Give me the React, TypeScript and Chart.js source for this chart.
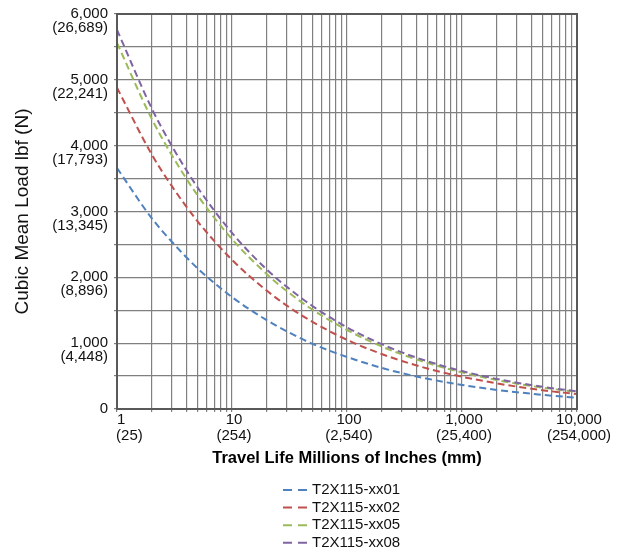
import React, { useEffect, useRef } from 'react';
import { Chart, registerables } from 'chart.js';

Chart.register(...registerables);

// ---- data ----
const travelLife = [1, 2, 3, 5, 10, 20, 30, 50, 100, 200, 300, 500, 1000, 2000, 3000, 5000, 10000];
const loadXx01 = [3660, 2900, 2540, 2140, 1700, 1350, 1180, 990, 790, 625, 545, 460, 365, 290, 255, 215, 170];
const loadXx02 = [4880, 3870, 3385, 2855, 2265, 1800, 1570, 1325, 1050, 835, 730, 615, 490, 390, 340, 285, 227];
const loadXx05 = [5560, 4410, 3855, 3250, 2580, 2050, 1790, 1510, 1200, 950, 830, 700, 556, 441, 385, 325, 258];
const loadXx08 = [5760, 4570, 3995, 3370, 2675, 2120, 1855, 1565, 1240, 985, 860, 725, 576, 457, 400, 337, 267];

const seriesNames = ['T2X115-xx01', 'T2X115-xx02', 'T2X115-xx05', 'T2X115-xx08'];
const seriesValues = [loadXx01, loadXx02, loadXx05, loadXx08];
const seriesColors = ['#4F81BD', '#C0504D', '#9BBB59', '#8064A2'];

const xMajorTicks = [1, 10, 100, 1000, 10000];
const xTickLabels = ['1', '10', '100', '1,000', '10,000'];
const xTickSubLabels = ['(25)', '(254)', '(2,540)', '(25,400)', '(254,000)'];
const xMinorMultipliers = [2, 3, 4, 5, 6, 7, 8, 9];

const yTickValues = [0, 1000, 2000, 3000, 4000, 5000, 6000];
const yTickLabels = ['0', '1,000', '2,000', '3,000', '4,000', '5,000', '6,000'];
const yTickSubLabels = ['', '(4,448)', '(8,896)', '(13,345)', '(17,793)', '(22,241)', '(26,689)'];

const xTitle = 'Travel Life Millions of Inches (mm)';
const yTitle = 'Cubic Mean Load lbf (N)';

const FONT = "'Liberation Sans', Arial, Helvetica, sans-serif";
const GRID = '#808080';

const frameAndLegend = {
  id: 'frameAndLegend',
  afterDraw(chart: any) {
    const { ctx, chartArea } = chart;
    ctx.save();
    ctx.strokeStyle = '#595959';
    ctx.lineWidth = 2;
    ctx.setLineDash([]);
    ctx.strokeRect(chartArea.left, chartArea.top, chartArea.right - chartArea.left, chartArea.bottom - chartArea.top);

    // legend: one entry per row
    ctx.font = `15px ${FONT}`;
    ctx.textBaseline = 'middle';
    ctx.textAlign = 'left';
    chart.data.datasets.forEach((ds: any, i: number) => {
      const y = 482 + i * 17.6;
      ctx.strokeStyle = ds.borderColor;
      ctx.lineWidth = 2;
      ctx.setLineDash([9, 6]);
      ctx.beginPath();
      ctx.moveTo(275, y);
      ctx.lineTo(299, y);
      ctx.stroke();
      ctx.setLineDash([]);
      ctx.fillStyle = '#111';
      ctx.fillText(ds.label, 304, y);
    });
    ctx.restore();
  },
};

function App() {
  const ref = useRef<HTMLCanvasElement | null>(null);

  useEffect(() => {
    if (!ref.current) return;
    const datasets = seriesNames.map((name, i) => ({
      label: name,
      data: travelLife.map((x, j) => ({ x, y: seriesValues[i][j] })),
      borderColor: seriesColors[i],
      backgroundColor: seriesColors[i],
      borderWidth: 2,
      borderDash: [7, 4],
      pointRadius: 0,
      fill: false,
      cubicInterpolationMode: 'monotone' as const,
      order: seriesNames.length - 1 - i,
    }));

    const chart = new Chart(ref.current, {
      type: 'line',
      data: { datasets },
      plugins: [frameAndLegend],
      options: {
        animation: false,
        responsive: true,
        maintainAspectRatio: false,
        devicePixelRatio: 1,
        layout: { padding: { top: 6, right: 34, bottom: 80, left: 0 } },
        plugins: {
          legend: { display: false },
          tooltip: { enabled: false },
        },
        scales: {
          x: {
            type: 'logarithmic',
            min: 1,
            max: 10000,
            afterBuildTicks: (scale: any) => {
              const vals: number[] = [];
              xMajorTicks.forEach((d, k) => {
                vals.push(d);
                if (k < xMajorTicks.length - 1) xMinorMultipliers.forEach((m) => vals.push(d * m));
              });
              scale.ticks = vals.map((v) => ({ value: v }));
            },
            afterFit: (scale: any) => {
              scale.height = 63;
              scale.paddingLeft = 0;
              scale.paddingRight = 0;
            },
            grid: { color: GRID, lineWidth: 1.2, tickLength: 3, drawTicks: true },
            border: { display: false },
            ticks: {
              autoSkip: false,
              maxRotation: 0,
              minRotation: 0,
              padding: 0,
              labelOffset: 2,
              color: '#111',
              font: { family: FONT, size: 15, lineHeight: 1.07 },
              callback: (value: any) => {
                const idx = xMajorTicks.indexOf(Number(value));
                if (idx < 0) return '';
                if (idx === 0) return [' ' + xTickLabels[0], '     ' + xTickSubLabels[0]];
                return [xTickLabels[idx], xTickSubLabels[idx]];
              },
            },
            title: {
              display: true,
              text: xTitle,
              color: '#000',
              padding: { top: 0, bottom: 4 },
              font: { family: FONT, size: 16.5, weight: 'bold', lineHeight: 1.2 },
            },
          },
          y: {
            type: 'linear',
            min: 0,
            max: 6000,
            afterFit: (scale: any) => {
              scale.width = 109;
              scale.paddingTop = 0;
              scale.paddingBottom = 0;
            },
            grid: { color: GRID, lineWidth: 1.2, tickLength: 3, drawTicks: true },
            border: { display: false },
            ticks: {
              stepSize: 500,
              autoSkip: false,
              padding: 6,
              color: '#111',
              font: { family: FONT, size: 15, lineHeight: 0.93 },
              callback: (value: any) => {
                const idx = yTickValues.indexOf(Number(value));
                if (idx < 0) return '';
                if (idx === 0) return yTickLabels[0];
                return ['', yTickLabels[idx], yTickSubLabels[idx]];
              },
            },
            title: {
              display: true,
              text: yTitle,
              color: '#111',
              padding: 3,
              font: { family: FONT, size: 19, lineHeight: 1.2 },
            },
          },
        },
      },
    } as any);

    return () => chart.destroy();
  }, []);

  return (
    <div style={{ position: 'relative', width: 603, height: 544 }}>
      <canvas ref={ref} />
    </div>
  );
}

export default App;
